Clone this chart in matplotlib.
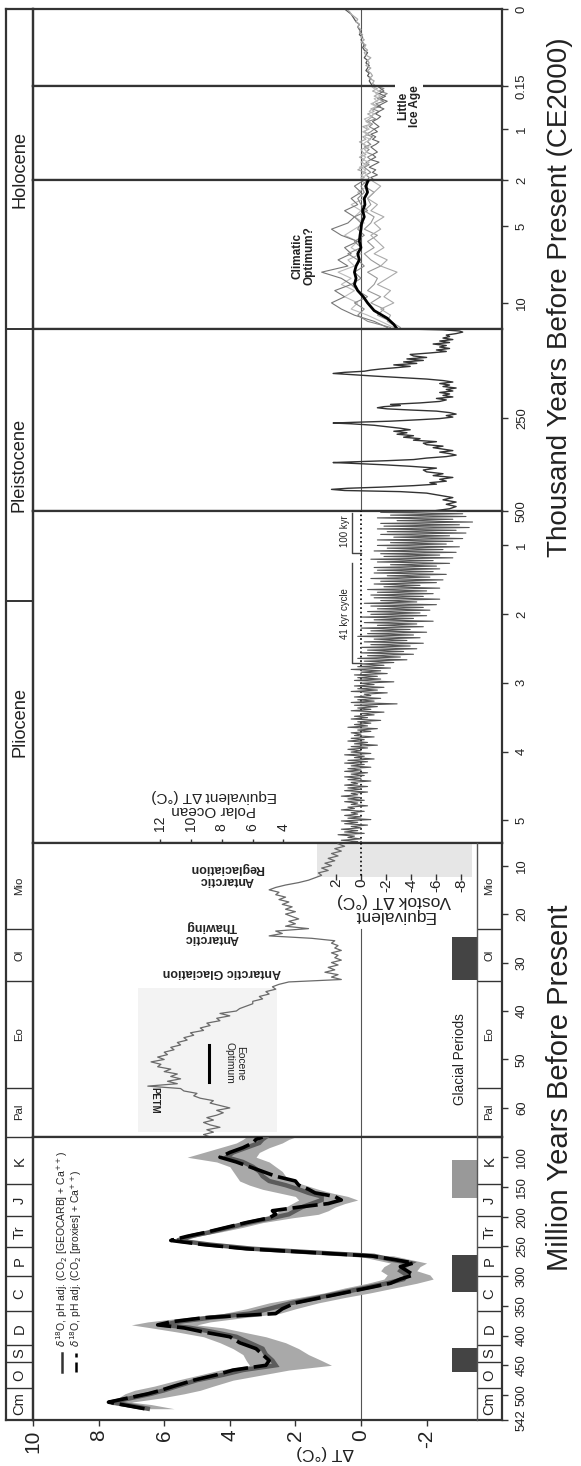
import numpy as np
import matplotlib.pyplot as plt
from matplotlib import font_manager
from matplotlib.transforms import blended_transform_factory as blend

W, H = 581, 1466

# ---------------- data ----------------
# Phanerozoic, Ma: two pH adjusted d18O curves and the grey envelope
phan_age = [523, 516, 512, 505, 498, 492, 485, 475, 466, 458,
            450, 442, 432, 422, 412, 402, 394, 387, 382, 377,
            370, 363, 355, 345, 336, 328, 320, 312, 305, 298,
            291, 284, 278, 272, 266, 260, 254, 247, 240, 233,
            226, 218, 210, 202, 196, 190, 184, 178, 172, 166,
            160, 154, 147, 140, 132, 124, 116, 108, 100, 92,
            84, 76, 70, 66]
phan_geocarb = [6.5, 7.2, 7.6, 7.0, 6.4, 6.0, 5.6, 5.0, 4.2, 3.6,
                2.6, 2.7, 2.9, 3.0, 3.4, 3.8, 4.5, 5.2, 6.0, 5.6,
                4.6, 3.4, 2.8, 2.1, 1.3, 0.6, -0.1, -0.8, -1.3, -1.4,
                -1.2, -1.3, -1.5, -0.9, -0.4, 1.5, 3.3, 4.6, 5.6, 5.2,
                4.6, 4.0, 3.4, 2.7, 2.2, 2.0, 1.8, 1.5, 1.2, 1.2,
                1.6, 1.9, 2.3, 2.8, 3.0, 3.1, 3.3, 3.6, 4.1, 3.9,
                3.5, 3.1, 3.0, 2.9]
phan_proxies = [6.6, 7.3, 7.7, 7.1, 6.5, 6.1, 5.7, 5.1, 4.4, 3.9,
                2.9, 2.8, 3.0, 3.2, 3.7, 4.0, 4.8, 5.4, 6.2, 5.8,
                4.8, 2.6, 2.4, 2.0, 1.2, 0.5, -0.2, -0.9, -1.2, -1.6,
                -1.4, -1.2, -1.6, -1.0, -0.3, 1.6, 3.5, 4.8, 5.8, 5.3,
                4.7, 4.1, 3.5, 2.8, 2.6, 2.7, 1.9, 1.0, 0.6, 0.8,
                1.4, 1.6, 1.9, 2.0, 2.6, 3.0, 3.4, 3.8, 4.3, 4.0,
                3.6, 3.3, 3.2, 3.0]
phan_hi = [6.7, 7.6, 7.7, 7.4, 7.2, 6.9, 6.3, 5.6, 4.9, 4.3,
           3.4, 3.5, 3.6, 3.9, 4.3, 4.8, 5.6, 6.4, 7.0, 6.5,
           5.4, 4.2, 3.5, 2.8, 1.9, 1.1, 0.5, -0.2, -0.7, -0.8,
           -0.6, -0.7, -0.9, -0.4, 0.1, 1.9, 3.6, 4.8, 5.7, 5.4,
           4.9, 4.3, 3.7, 3.0, 2.6, 2.5, 2.3, 2.1, 1.9, 2.0,
           2.5, 3.0, 3.4, 3.7, 3.8, 3.9, 4.0, 4.4, 5.3, 4.8,
           4.3, 3.8, 3.6, 3.5]
phan_lo = [5.7, 6.4, 7.0, 6.1, 5.4, 4.9, 4.5, 3.9, 3.0, 2.2,
           0.9, 1.2, 1.6, 1.9, 2.3, 2.9, 3.6, 4.2, 5.0, 4.6,
           3.6, 2.5, 2.0, 1.3, 0.5, -0.3, -1.0, -1.7, -2.2, -2.1,
           -1.7, -1.8, -2.0, -1.5, -1.0, 0.9, 2.9, 4.3, 5.4, 5.0,
           4.3, 3.6, 3.0, 2.1, 1.3, 1.0, 0.8, 0.5, 0.1, 0.4,
           0.9, 1.3, 1.7, 2.1, 2.3, 2.4, 2.6, 2.8, 3.2, 3.1,
           2.8, 2.4, 2.2, 2.0]

# Cenozoic d18O record, 66 Ma to 5.5 Ma every 0.5 Myr
ceno_dT = [4.6, 4.8, 4.5, 4.7, 4.3, 4.6, 4.8, 4.5, 4.7, 4.4,
           4.2, 4.4, 4.0, 4.3, 4.6, 4.5, 4.9, 5.1, 5.0, 5.4,
           5.5, 6.5, 5.6, 5.9, 5.5, 5.8, 5.6, 6.0, 5.8, 6.2,
           6.1, 6.4, 6.0, 6.2, 5.9, 6.0, 5.7, 5.8, 5.5, 5.6,
           5.3, 5.4, 5.1, 5.2, 4.8, 4.9, 4.6, 4.7, 4.3, 4.4,
           4.0, 4.3, 3.8, 3.7, 3.5, 3.3, 3.3, 3.0, 3.1, 2.8,
           2.9, 2.6, 2.7, 2.5, 2.2, 0.6, 0.9, 0.7, 1.1, 0.8,
           1.0, 0.7, 0.9, 0.6, 0.8, 0.7, 0.9, 0.6, 0.8, 0.7,
           0.9, 0.8, 1.5, 2.8, 2.4, 2.6, 1.6, 2.3, 2.0, 2.2,
           1.9, 2.1, 2.3, 2.0, 2.3, 2.1, 2.4, 2.2, 2.5, 2.3,
           2.6, 2.5, 2.8, 2.6, 2.3, 1.9, 1.6, 1.4, 1.2, 1.3,
           1.0, 1.2, 0.9, 1.1, 0.8, 1.0, 0.7, 0.9, 0.6, 0.8,
           0.5, 0.7]

# Pliocene - Pleistocene benthic stack, 5.33 Ma to 0.5 Ma, evenly sampled
lr04_dT = [0.5, 0.1, 0.6, 0.0, 0.4, 0.2, 0.7, -0.1, 0.5, 0.1,
           0.6, 0.0, 0.3, -0.2, 0.5, 0.1, 0.6, -0.3, 0.4, 0.0,
           0.5, 0.1, 0.3, -0.1, 0.6, 0.2, 0.4, -0.2, 0.3, 0.1,
           0.5, -0.1, 0.4, 0.0, 0.6, 0.1, 0.3, -0.2, 0.5, 0.0,
           0.4, -0.2, 0.5, 0.1, 0.3, -0.3, 0.4, 0.0, 0.5, -0.1,
           0.3, -0.2, 0.5, 0.0, 0.4, -0.3, 0.3, -0.1, 0.5, -0.2,
           0.4, -0.4, 0.2, -0.1, 0.5, -0.3, 0.3, 0.0, 0.4, -0.2,
           0.3, -0.5, 0.2, -0.2, 0.4, -0.1, 0.3, -0.4, 0.2, 0.0,
           0.3, -0.3, 0.1, -0.5, 0.4, -0.2, 0.2, -0.3, 0.1, -0.6,
           0.3, -0.2, 0.2, -0.4, 0.0, -0.7, 0.3, -0.3, 0.1, -0.5,
           0.2, -1.1, 0.3, -0.4, 0.1, -0.6, 0.2, -0.3, -0.1, -0.8,
           0.3, -0.5, 0.1, -0.7, 0.2, -0.4, 0.0, -1.0, 0.2, -0.6,
           0.1, -0.5, 0.2, -0.8, 0.0, -0.6, 0.3, -0.9, 0.1, -0.7,
           0.0, -1.0, -0.1, -1.4, 0.1, -1.2, -0.2, -1.6, 0.0, -1.3,
           -0.2, -1.7, 0.0, -1.5, -0.3, -1.9, -0.1, -1.4, -0.4, -1.8,
           0.1, -1.6, -0.2, -2.0, -0.3, -1.5, 0.0, -1.9, -0.5, -1.7,
           -0.1, -2.2, -0.4, -1.6, 0.0, -2.0, -0.3, -1.8, -0.2, -2.1,
           -0.5, -1.9, -0.3, -2.3, -0.1, -1.7, -0.6, -2.4, -0.4, -1.9,
           -0.3, -2.2, -0.5, -2.0, -0.2, -2.4, -0.7, -1.8, -0.4, -2.3,
           -0.6, -2.5, -0.3, -2.1, -0.8, -2.6, -0.4, -2.2, -0.5, -2.4,
           -0.4, -2.3, -0.9, -2.7, -0.5, -2.2, -0.3, -2.8, -0.7, -2.4,
           -0.6, -2.9, -0.4, -2.5, -0.8, -3.0, -0.5, -2.6, -0.9, -2.8,
           -0.5, -3.1, -1.0, -2.7, -0.6, -3.2, -0.8, -2.9, -0.5, -3.3,
           -0.7, -3.0, -0.6, -3.4, -1.1, -2.8, -0.5, -3.2, -0.9, -3.1,
           -0.6, -2.9]

# ice core record, kyr
ice_age = [500, 494, 488, 482, 476, 470, 464, 458, 452, 448,
           445, 442, 439, 436, 432, 428, 424, 420, 415, 410,
           405, 400, 395, 390, 385, 380, 376, 372, 370, 368,
           365, 362, 358, 354, 350, 346, 342, 338, 334, 330,
           326, 322, 318, 314, 310, 306, 302, 298, 294, 290,
           286, 282, 278, 274, 270, 266, 264, 262, 259, 255,
           252, 248, 244, 240, 236, 232, 229, 226, 223, 220,
           217, 214, 210, 206, 202, 198, 194, 190, 186, 182,
           178, 174, 170, 166, 162, 158, 154, 150, 146, 142,
           138, 134, 131, 128, 125, 122, 119, 116, 112, 108,
           104, 100, 96, 92, 88, 84, 80, 76, 72, 68,
           64, 60, 56, 52, 48, 44, 40, 36, 32, 28,
           24, 20, 17, 14, 12]
ice_dT = [-2.2, -2.7, -2.9, -2.6, -2.9, -2.5, -2.8, -2.4, -2.0, -1.2,
          0.5, 0.9, 0.4, -0.6, -1.6, -2.3, -2.1, -2.6, -2.4, -2.8,
          -2.2, -2.5, -2.0, -1.9, -2.3, -1.5, -0.7, 0.3, 0.85, 0.2,
          -0.8, -1.6, -2.0, -2.6, -2.9, -2.7, -2.4, -2.8, -2.5, -2.2,
          -2.5, -2.0, -1.9, -2.3, -1.6, -1.8, -1.3, -1.6, -1.1, -1.4,
          -1.0, -1.5, -1.2, -0.8, -0.4, 0.3, 0.85, 0.2, -0.9, -1.8,
          -2.4, -2.8, -2.6, -2.9, -2.7, -2.3, -1.5, -0.8, -0.5, -0.7,
          -1.2, -0.9, -1.8, -2.4, -2.6, -2.3, -2.8, -2.5, -2.7, -2.4,
          -2.8, -2.6, -2.9, -2.5, -2.7, -2.4, -2.8, -2.5, -2.0, -1.2,
          -0.4, 0.3, 0.85, 0.5, -0.1, -0.3, -0.6, -1.0, -1.5, -1.0,
          -1.7, -1.3, -1.9, -1.4, -2.0, -1.6, -1.5, -2.1, -2.6, -2.3,
          -2.7, -2.4, -2.6, -2.2, -2.7, -2.4, -2.8, -2.5, -2.7, -2.6,
          -2.9, -3.1, -3.0, -2.5, -1.5]

# Holocene, kyr: mean (black) and individual reconstructions (grey)
holo_mean_age = [11.7, 11.4, 11.0, 10.5, 10.0, 9.6, 9.2, 8.8, 8.4, 8.0,
                 7.6, 7.2, 6.8, 6.4, 6.0, 5.6, 5.2, 4.8, 4.4, 4.0,
                 3.6, 3.2, 2.8, 2.4, 2.0]
holo_mean = [-1.1, -1.0, -0.8, -0.4, -0.2, -0.07, 0.1, 0.2, 0.15, 0.2,
             0.15, 0.05, 0.1, 0.0, 0.05, 0.03, 0.0, -0.02, -0.1, -0.05,
             -0.12, -0.1, -0.2, -0.15, -0.22]
holo_age = [11.6, 11.2, 10.8, 10.4, 10.0, 9.6, 9.2, 8.8, 8.4, 8.0,
            7.6, 7.2, 6.8, 6.4, 6.0, 5.6, 5.2, 4.8, 4.4, 4.0,
            3.6, 3.2, 2.8, 2.4, 2.0]
holo_series = [
    [-1.0, -0.6, -0.2, 0.3, 0.1, 0.5, 0.2, 0.6, 0.3, 0.7, 0.2, 0.4, 0.0,
     0.3, 0.1, 0.5, 0.2, -0.1, 0.2, 0.0, 0.3, -0.1, 0.1, -0.2, 0.0],
    [-1.2, -0.9, -0.5, -0.7, -0.3, -0.6, -0.2, -0.4, -0.5, -0.2, -0.6, -0.3, -0.1,
     -0.4, -0.2, -0.5, -0.1, -0.3, -0.4, -0.1, -0.3, -0.2, -0.4, -0.1, -0.3],
    [-0.8, -0.4, 0.2, 0.6, 0.9, 0.5, 0.8, 0.3, 0.6, 1.2, 0.4, 0.7, 0.3,
     0.5, 0.1, 0.6, 0.9, 0.4, 0.2, 0.5, 0.1, 0.3, 0.0, 0.2, -0.1],
    [-1.1, -0.8, -0.9, -0.6, -1.0, -0.7, -0.9, -0.5, -0.8, -1.1, -0.6, -0.8, -0.4,
     -0.7, -0.5, -0.3, -0.6, -0.4, -0.7, -0.3, -0.5, -0.2, -0.4, -0.6, -0.3],
    [-0.9, -0.2, 0.1, -0.1, 0.2, -0.2, 0.1, 0.3, 0.0, 0.2, -0.1, 0.1, 0.4,
     0.0, 0.2, -0.1, 0.1, 0.0, 0.2, -0.2, 0.0, 0.1, -0.1, 0.0, -0.2],
]
holo_colors = ['#bbbbbb', '#999999', '#777777', '#aaaaaa', '#888888']

# last 2 kyr
late_age = [2.00, 1.95, 1.90, 1.85, 1.80, 1.75, 1.70, 1.65, 1.60, 1.55,
            1.50, 1.45, 1.40, 1.35, 1.30, 1.25, 1.20, 1.15, 1.10, 1.05,
            1.00, 0.95, 0.90, 0.85, 0.80, 0.75, 0.70, 0.65, 0.60, 0.55,
            0.50, 0.45, 0.40, 0.35, 0.30, 0.25, 0.20, 0.15]
late_series = [
    [-0.20, -0.25, -0.15, -0.30, -0.20, -0.10, -0.25, -0.15, -0.30, -0.20,
     -0.35, -0.15, -0.25, -0.10, -0.30, -0.20, -0.25, -0.35, -0.15, -0.30,
     -0.40, -0.25, -0.35, -0.20, -0.45, -0.30, -0.40, -0.55, -0.35, -0.60,
     -0.45, -0.70, -0.50, -0.65, -0.80, -0.55, -0.70, -0.45],
    [0.05, -0.10, 0.00, -0.15, 0.10, -0.05, -0.20, 0.00, -0.10, 0.05,
     -0.15, -0.05, 0.00, -0.20, -0.10, 0.05, -0.15, -0.05, -0.25, -0.10,
     -0.20, -0.05, -0.30, -0.15, -0.25, -0.35, -0.20, -0.40, -0.30, -0.50,
     -0.35, -0.45, -0.60, -0.40, -0.55, -0.35, -0.50, -0.30],
    [-0.40, -0.30, -0.50, -0.35, -0.45, -0.25, -0.40, -0.55, -0.30, -0.45,
     -0.35, -0.50, -0.40, -0.30, -0.45, -0.55, -0.35, -0.45, -0.30, -0.50,
     -0.40, -0.55, -0.45, -0.35, -0.50, -0.60, -0.45, -0.55, -0.70, -0.50,
     -0.65, -0.80, -0.60, -0.75, -0.55, -0.70, -0.60, -0.50],
    [-0.10, 0.00, -0.20, -0.05, -0.15, 0.05, -0.10, -0.25, -0.05, -0.15,
     0.00, -0.20, -0.10, -0.25, -0.05, -0.15, -0.30, -0.10, -0.20, -0.05,
     -0.25, -0.15, -0.30, -0.20, -0.10, -0.30, -0.40, -0.25, -0.35, -0.45,
     -0.30, -0.50, -0.40, -0.60, -0.45, -0.55, -0.40, -0.30],
]
late_colors = ['#888888', '#aaaaaa', '#666666', '#bbbbbb']

# last 150 years, kyr
inst_age = [0.150, 0.145, 0.140, 0.135, 0.130, 0.125, 0.120, 0.115, 0.110, 0.105,
            0.100, 0.095, 0.090, 0.085, 0.080, 0.075, 0.070, 0.065, 0.060, 0.055,
            0.050, 0.045, 0.040, 0.035, 0.030, 0.025, 0.020, 0.015, 0.010, 0.005,
            0.000]
inst_series = [
    [-0.35, -0.30, -0.25, -0.30, -0.20, -0.25, -0.15, -0.20, -0.25, -0.15,
     -0.20, -0.10, -0.15, -0.20, -0.10, -0.05, -0.10, -0.05, 0.00, -0.05,
     0.05, 0.00, 0.05, 0.10, 0.05, 0.15, 0.20, 0.25, 0.30, 0.40, 0.50],
    [-0.45, -0.35, -0.40, -0.25, -0.35, -0.30, -0.20, -0.30, -0.15, -0.25,
     -0.20, -0.30, -0.15, -0.10, -0.20, -0.10, -0.15, 0.00, -0.10, 0.00,
     -0.05, 0.05, 0.00, 0.10, 0.05, 0.15, 0.10, 0.20, 0.30, 0.35, 0.45],
]
inst_colors = ['#555555', '#aaaaaa']

# time scale divisions, Ma
epoch_names = ['Holocene', 'Pleistocene', 'Pliocene']
epoch_bounds = [0.0, 0.0117, 1.806, 5.33]
period_names = ['Mio', 'Ol', 'Eo', 'Pal', 'K', 'J', 'Tr', 'P', 'C', 'D', 'S', 'O', 'Cm']
period_bounds = [5.33, 23.03, 33.9, 55.8, 66, 145.5, 199.6, 251, 299, 359.2,
                 416, 443.7, 488.3, 542]
# glacial periods, Ma, and shade
glacial_spans = [(24.7, 33.6), (105, 169), (265, 327), (421, 462)]
glacial_shades = ['#444444', '#999999', '#444444', '#444444']

dT_ticks = [10, 8, 6, 4, 2, 0, -2]
vostok_ticks = [2, 0, -2, -4, -6, -8]
polar_ticks = [12, 10, 8, 6, 4]
time_ticks = {'A': [542, 500, 450, 400, 350, 300, 250, 200, 150, 100],
              'B': [60, 50, 40, 30, 20, 10], 'C': [5, 4, 3, 2, 1],
              'D': [500, 250], 'E': [10, 5, 2], 'F': [1, 0.15], 'G': [0]}

# ---------------- fonts ----------------
installed = {f.name for f in font_manager.fontManager.ttflist}
if 'Liberation Sans Narrow' in installed:
    NARROW, SQ = 'Liberation Sans Narrow', 1.0
else:
    NARROW, SQ = 'Liberation Sans', 0.82
plt.rcParams['font.family'] = ['Liberation Sans', 'DejaVu Sans']
NFAM = [NARROW, 'DejaVu Sans']
FRAME = '#333333'
INK = '#222222'

fig = plt.figure(figsize=(W / 100, H / 100), dpi=100)

# ---------------- panels ----------------
X0, X1 = 33, 502
DT_LEFT, PX_PER_DEG = 10.0, 32.8
DT_RIGHT = DT_LEFT - (X1 - X0) / PX_PER_DEG

panel_rows = [  # name, top px, bottom px, young, old, time units per Ma
    ('G', 9, 86, 0.0, 0.15, 1000),
    ('F', 86, 180, 0.15, 2.0, 1000),
    ('E', 180, 329, 2.0, 11.7, 1000),
    ('D', 329, 511, 11.7, 500, 1000),
    ('C', 511, 843, 0.5, 5.33, 1),
    ('B', 843, 1137, 5.33, 66, 1),
    ('A', 1137, 1420, 66, 542, 1),
]
axes = {}
for name, top, bot, young, old, per in panel_rows:
    ax = fig.add_axes([X0 / W, 1 - bot / H, (X1 - X0) / W, (bot - top) / H])
    ax.set_xlim(DT_LEFT, DT_RIGHT)
    ax.set_ylim(old, young)
    ax.set_xticks([])
    for s in ax.spines.values():
        s.set_linewidth(1.6)
        s.set_color(FRAME)
    ax.yaxis.tick_right()
    ticks = time_ticks[name]
    ax.set_yticks(ticks, labels=[f'{t:g}' for t in ticks], family=NFAM,
                  fontsize=11.5 * SQ, rotation=90, va='center', color=INK)
    ax.tick_params(axis='y', direction='out', length=4, width=1,
                   color=FRAME, pad=6)
    axes[name] = ax


def fig_y(t_ma):
    for name, top, bot, young, old, per in panel_rows:
        if young / per - 1e-9 <= t_ma <= old / per + 1e-9:
            disp = axes[name].transData.transform((0, t_ma * per))
            return fig.transFigure.inverted().transform(disp)[1]


axA, axB, axC = axes['A'], axes['B'], axes['C']
axD, axE, axF, axG = axes['D'], axes['E'], axes['F'], axes['G']

# dT axis at the bottom
axA.set_xticks(dT_ticks, labels=[f'{t:g}' for t in dT_ticks], rotation=90,
               fontsize=15, color=INK)
axA.tick_params(axis='x', direction='out', length=4, width=1, color=FRAME, pad=3)
axA.text(1.1, 1 - 1445 / H, 'ΔT (°C)', rotation=180, ha='center', va='top',
         fontsize=12.5, color=INK, transform=blend(axA.transData, fig.transFigure))

# zero lines
for ax in (axA, axD, axE, axF, axG):
    ax.axvline(0, color='#555555', lw=0.8, zorder=1)
axB.plot([0, 0], [23, 66], color='#555555', lw=0.8, zorder=1)
axC.axvline(0, color='black', lw=1.2, ls=':', zorder=3)
axB.plot([0, 0], [5.33, 12.3], color='black', lw=1.2, ls=':', zorder=3)

# Phanerozoic panel
axA.fill_betweenx(phan_age, phan_lo, phan_hi, color='#a9a9a9', lw=0, zorder=2)
axA.plot(phan_geocarb, phan_age, color='#5c5c5c', lw=3.2, zorder=3,
         solid_joinstyle='miter')
axA.plot(phan_proxies, phan_age, color='black', lw=2.6, zorder=4,
         dashes=(7, 1.6))
lgT = blend(axA.transAxes, axA.transData)
for xf, style, col, lbl in [
        (0.062, '-', '#333333', r'$\delta^{18}$O, pH adj. (CO$_2$ [GEOCARB] + Ca$^{++}$)'),
        (0.092, '--', 'black', r'$\delta^{18}$O, pH adj. (CO$_2$ [proxies] + Ca$^{++}$)')]:
    axA.plot([xf, xf], [462, 430], ls=style, color=col, lw=1.8, transform=lgT,
             dashes=(4, 2) if style == '--' else (None, None))
    axA.text(xf, 420, lbl, transform=lgT, rotation=90, rotation_mode='anchor',
             ha='left', va='center', fontsize=7.5, color=INK)

# Cenozoic panel
ceno_age = np.linspace(66.0, 5.5, len(ceno_dT))
axB.fill_betweenx([35.2, 64.9], 2.56, 6.8, color='#f3f3f3', lw=0, zorder=0)
axB.plot(ceno_dT, ceno_age, color='#6a6a6a', lw=0.9, zorder=3)
axB.plot([4.63, 4.63], [47, 54.6], color='black', lw=2.2)
axB.text(3.85, 50.8, 'Eocene\nOptimum', rotation=-90, ha='center', va='center',
         fontsize=9 * SQ, family=NFAM, color=INK, linespacing=1.0)
axB.text(6.3, 58.5, 'PETM', rotation=-90, ha='center', va='center',
         fontsize=8.5 * SQ, family=NFAM, color=INK, weight='bold')
for txt, x, t in [('Antarctic\nReglaciation', 4.1, 11.7),
                  ('Antarctic\nThawing', 4.57, 23.7),
                  ('Antarctic Glaciation', 4.24, 31.9)]:
    axB.text(x, t, txt, rotation=180, ha='center', va='center', fontsize=9,
             weight='bold', color=INK, linespacing=1.0)

# Vostok equivalent inset
VOSTOK_SCALE = 12.5 / PX_PER_DEG
axB.fill_betweenx([5.33, 12.3], -3.38, 1.34, color='#e6e6e6', lw=0, zorder=0)
vx = [VOSTOK_SCALE * v for v in vostok_ticks]
axB.plot(vx, [12.3] * len(vx), ls='none', marker='|', ms=4, color=FRAME)
for v, x in zip(vostok_ticks, vx):
    axB.text(x, 12.6, f'{v:g}', rotation=90, ha='center', va='top',
             fontsize=11, color=INK)
axB.text(-1.0, 18.7, 'Equivalent\nVostok ΔT (°C)', rotation=180, ha='center',
         va='center', fontsize=12.5, color=INK, linespacing=1.0)

# polar ocean equivalent scale on the Pliocene panel
POLAR_SLOPE, POLAR_OFFSET = 0.4695, 0.49
px = [POLAR_SLOPE * p + POLAR_OFFSET for p in polar_ticks]
axC.plot(px, [5.33] * len(px), ls='none', marker='|', ms=6, color=FRAME,
         clip_on=False)
for p, x in zip(polar_ticks, px):
    axC.text(x, 5.15, f'{p:g}', rotation=90, ha='center', va='bottom',
             fontsize=10, color=INK)
axC.text(4.48, 4.75, 'Polar Ocean\nEquivalent ΔT (°C)', rotation=180,
         ha='center', va='center', fontsize=11, color=INK, linespacing=1.0)

# Pliocene / Pleistocene stack
lr04_age = np.linspace(5.33, 0.5, len(lr04_dT))
axC.plot(lr04_dT, lr04_age, color='#555555', lw=0.8, zorder=3)
axC.plot([0.27, 0.27, 0.0], [1.26, 2.71, 2.71], color='#444444', lw=1)
axC.plot([0.27, 0.27, 0.0], [0.53, 1.11, 1.11], color='#444444', lw=1)
axC.text(0.5, 1.99, '41 kyr cycle', rotation=90, ha='center', va='center',
         fontsize=8.5 * SQ, family=NFAM, color=INK,
         bbox=dict(fc='white', ec='none', pad=0.5))
axC.text(0.5, 0.8, '100 kyr', rotation=90, ha='center', va='center',
         fontsize=8.5 * SQ, family=NFAM, color=INK,
         bbox=dict(fc='white', ec='none', pad=0.5))

# ice core
axD.plot(ice_dT, ice_age, color='#333333', lw=1.0, zorder=3)
axD.plot([holo_mean[0], ice_dT[-1]], [11.7, ice_age[-1]], color='#333333', lw=1.0)

# Holocene
for ser, c in zip(holo_series, holo_colors):
    axE.plot(ser, holo_age, color=c, lw=0.8, zorder=2)
axE.plot(holo_mean, holo_mean_age, color='black', lw=2.0, zorder=4)
axE.text(1.74, 6.95, 'Climatic\nOptimum?', rotation=90, ha='center',
         va='center', fontsize=8.5, weight='bold', color=INK, linespacing=1.0)
for ser, c in zip(late_series, late_colors):
    axF.plot(ser, late_age, color=c, lw=0.8, zorder=2)
axF.text(-1.46, 0.54, 'Little\nIce Age', rotation=90, ha='center', va='center',
         fontsize=8.5, weight='bold', color=INK, linespacing=1.0, zorder=6,
         bbox=dict(fc='white', ec='none', pad=1.5))
for ser, c in zip(inst_series, inst_colors):
    axG.plot(ser, inst_age, color=c, lw=0.9, zorder=2)

# glacial periods and right period column
GL_X0, GL_X1 = (452 - X0) / (X1 - X0), (477 - X0) / (X1 - X0)
for (t0, t1), c in zip(glacial_spans, glacial_shades):
    ax = axB if t1 <= 66 else axA
    ax.axhspan(t0, t1, xmin=GL_X0, xmax=GL_X1, color=c, lw=0, zorder=2)
axB.text(0.91, 50.0, 'Glacial Periods', transform=blend(axB.transAxes, axB.transData),
         rotation=90, ha='center', va='center', fontsize=12 * SQ, family=NFAM,
         color=INK)

col = fig.add_axes([6 / W, 1 - 1420 / H, (X0 - 6) / W, (1420 - 9) / H])
rcol = fig.add_axes([477 / W, 1 - 1420 / H, (X1 - 477) / W, (1420 - 843) / H])
for a in (col, rcol):
    a.set_xlim(0, 1)
    a.set_ylim(0, 1)
    a.set_xticks([])
    a.set_yticks([])
    a.patch.set_alpha(0)
for s in col.spines.values():
    s.set_linewidth(1.6)
    s.set_color(FRAME)
for k, s in rcol.spines.items():
    s.set_visible(k == 'left')
    s.set_linewidth(1.0)
    s.set_color('#555555')


def column(a, names, bounds, sizes, lw):
    tr = blend(a.transAxes, fig.transFigure)
    ys = [fig_y(b) for b in bounds]
    for y in ys[1:-1]:
        a.plot([0, 1], [y, y], color=FRAME, lw=lw, transform=tr)
    for nm, y0, y1, fs in zip(names, ys[:-1], ys[1:], sizes):
        a.text(0.5, (y0 + y1) / 2, nm, transform=tr, rotation=90, ha='center',
               va='center', fontsize=fs * SQ, family=NFAM, color=INK)


per_sizes = [10] * 4 + [13] * 9
column(col, epoch_names, epoch_bounds, [16] * 3, 1.4)
column(col, period_names, period_bounds, per_sizes, 1.0)
column(rcol, period_names, period_bounds, per_sizes, 1.0)

# axis titles
fig.text(560 / W, 1 - 297 / H, 'Thousand Years Before Present (CE2000)',
         rotation=90, ha='center', va='center', fontsize=20, color=INK)
fig.text(560 / W, 1 - 1088 / H, 'Million Years Before Present',
         rotation=90, ha='center', va='center', fontsize=21, color=INK)

fig.savefig('out.png', dpi=100)
